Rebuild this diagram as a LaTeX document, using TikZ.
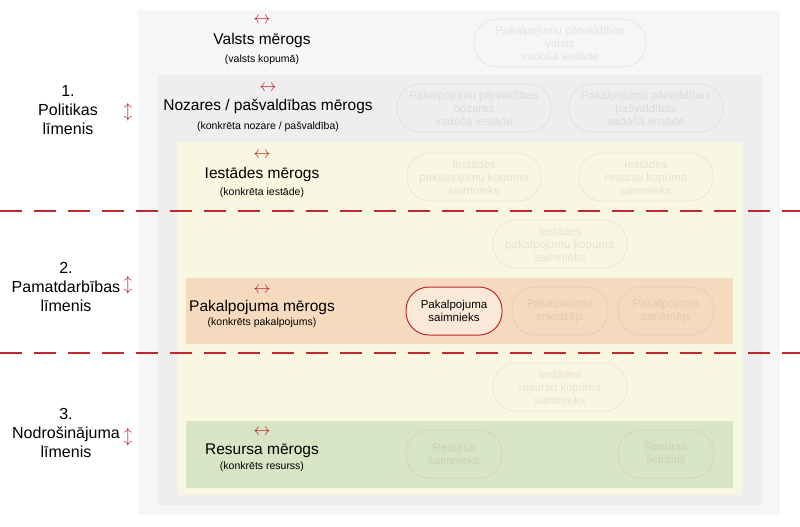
\documentclass[tikz,border=0pt]{standalone}
\usepackage{fontspec}
\setmainfont{Liberation Sans}
\definecolor{cyel}{RGB}{249,247,226}
\definecolor{corg}{RGB}{246,218,190}
\definecolor{cgrn}{RGB}{216,229,196}
\definecolor{cg1}{RGB}{246,246,246}
\definecolor{cg2}{RGB}{238,238,238}
\definecolor{cred}{RGB}{192,40,45}
\begin{document}
\begin{tikzpicture}[x=1pt,y=-1pt,
 lvl/.style={align=center,font=\fontsize{16}{19}\selectfont},
 big/.style={font=\fontsize{15.5}{17}\selectfont},
 small/.style={font=\fontsize{10.5}{12}\selectfont},
 arr/.style={font=\fontsize{18}{18}\selectfont,text=cred},
 pill/.style={draw=cred,line width=1pt,rounded corners=23pt,minimum height=48pt,align=center,font=\fontsize{11.5}{13}\selectfont,inner sep=1pt},
 ghost/.style={pill,opacity=0.08},
 sepline/.style={draw=cred,line width=1.3pt,dash pattern=on 22pt off 12pt}]
\useasboundingbox (0,0) rectangle (800,527);
\fill[white] (0,0) rectangle (800,527);
\fill[cg1] (138,10) rectangle (780,515);
\fill[cg2] (158,75) rectangle (762,505);
\fill[cyel] (178,142) rectangle (742,495);
\fill[corg] (186,278) rectangle (733,344);
\fill[cgrn] (186,421) rectangle (733,488);
\draw[sepline] (0,211) -- (800,211);
\draw[sepline] (0,353) -- (800,353);
% level labels
\node[lvl] (l1) at (68,110) {1.\\Politikas\\līmenis};
\node[arr] (a1) at (128,112) {$\updownarrow$};
\node[lvl] (l2) at (66,287) {2.\\Pamatdarbības\\līmenis};
\node[arr] (a2) at (128,285) {$\updownarrow$};
\node[lvl] (l3) at (66,433) {3.\\Nodrošinājuma\\līmenis};
\node[arr] (a3) at (128,437) {$\updownarrow$};
% scale labels
\node[arr] (s1a) at (262,20) {$\leftrightarrow$};
\node[big] (s1) at (262,40) {Valsts mērogs};
\node[small] (s1b) at (262,60) {(valsts kopumā)};
\node[arr] (s2a) at (268,88) {$\leftrightarrow$};
\node[big] (s2) at (268,106) {Nozares / pašvaldības mērogs};
\node[small] (s2b) at (268,127) {(konkrēta nozare / pašvaldība)};
\node[arr] (s3a) at (262,155) {$\leftrightarrow$};
\node[big] (s3) at (262,174) {Iestādes mērogs};
\node[small] (s3b) at (262,193) {(konkrēta iestāde)};
\node[arr] (s4a) at (262,290) {$\leftrightarrow$};
\node[big] (s4) at (262,307) {Pakalpojuma mērogs};
\node[small] (s4b) at (262,323) {(konkrēts pakalpojums)};
\node[arr] (s5a) at (262,432) {$\leftrightarrow$};
\node[big] (s5) at (262,451) {Resursa mērogs};
\node[small] (s5b) at (262,467) {(konkrēts resurss)};
% pills
\node[ghost,minimum width=172pt] (p1) at (560,43) {Pakalpojumu pārvaldības\\valsts\\vadošā iestāde};
\node[ghost,minimum width=154pt] (p2) at (474,108) {Pakalpojumu pārvaldības\\nozares\\vadošā iestāde};
\node[ghost,minimum width=154pt] (p3) at (646,108) {Pakalpojumu pārvaldības\\pašvaldības\\vadošā iestāde};
\node[ghost,minimum width=134pt] (p4) at (474,177) {Iestādes\\pakalpojumu kopuma\\saimnieks};
\node[ghost,minimum width=134pt] (p5) at (646,177) {Iestādes\\resursu kopuma\\saimnieks};
\node[ghost,minimum width=134pt] (p6) at (560,244) {Iestādes\\pakalpojumu kopuma\\saimnieks};
\node[pill,minimum width=96pt,fill=corg!60!white] (p7) at (454,311) {Pakalpojuma\\saimnieks};
\node[ghost,minimum width=96pt] (p8) at (560,311) {Pakalpojuma\\sniedzējs};
\node[ghost,minimum width=96pt] (p9) at (666,311) {Pakalpojuma\\saņēmējs};
\node[ghost,minimum width=134pt] (p10) at (560,387) {Iestādes\\resursu kopuma\\saimnieks};
\node[ghost,minimum width=96pt] (p11) at (454,454) {Resursa\\saimnieks};
\node[ghost,minimum width=96pt] (p12) at (666,454) {Resursa\\lietotājs};
\end{tikzpicture}
\end{document}
